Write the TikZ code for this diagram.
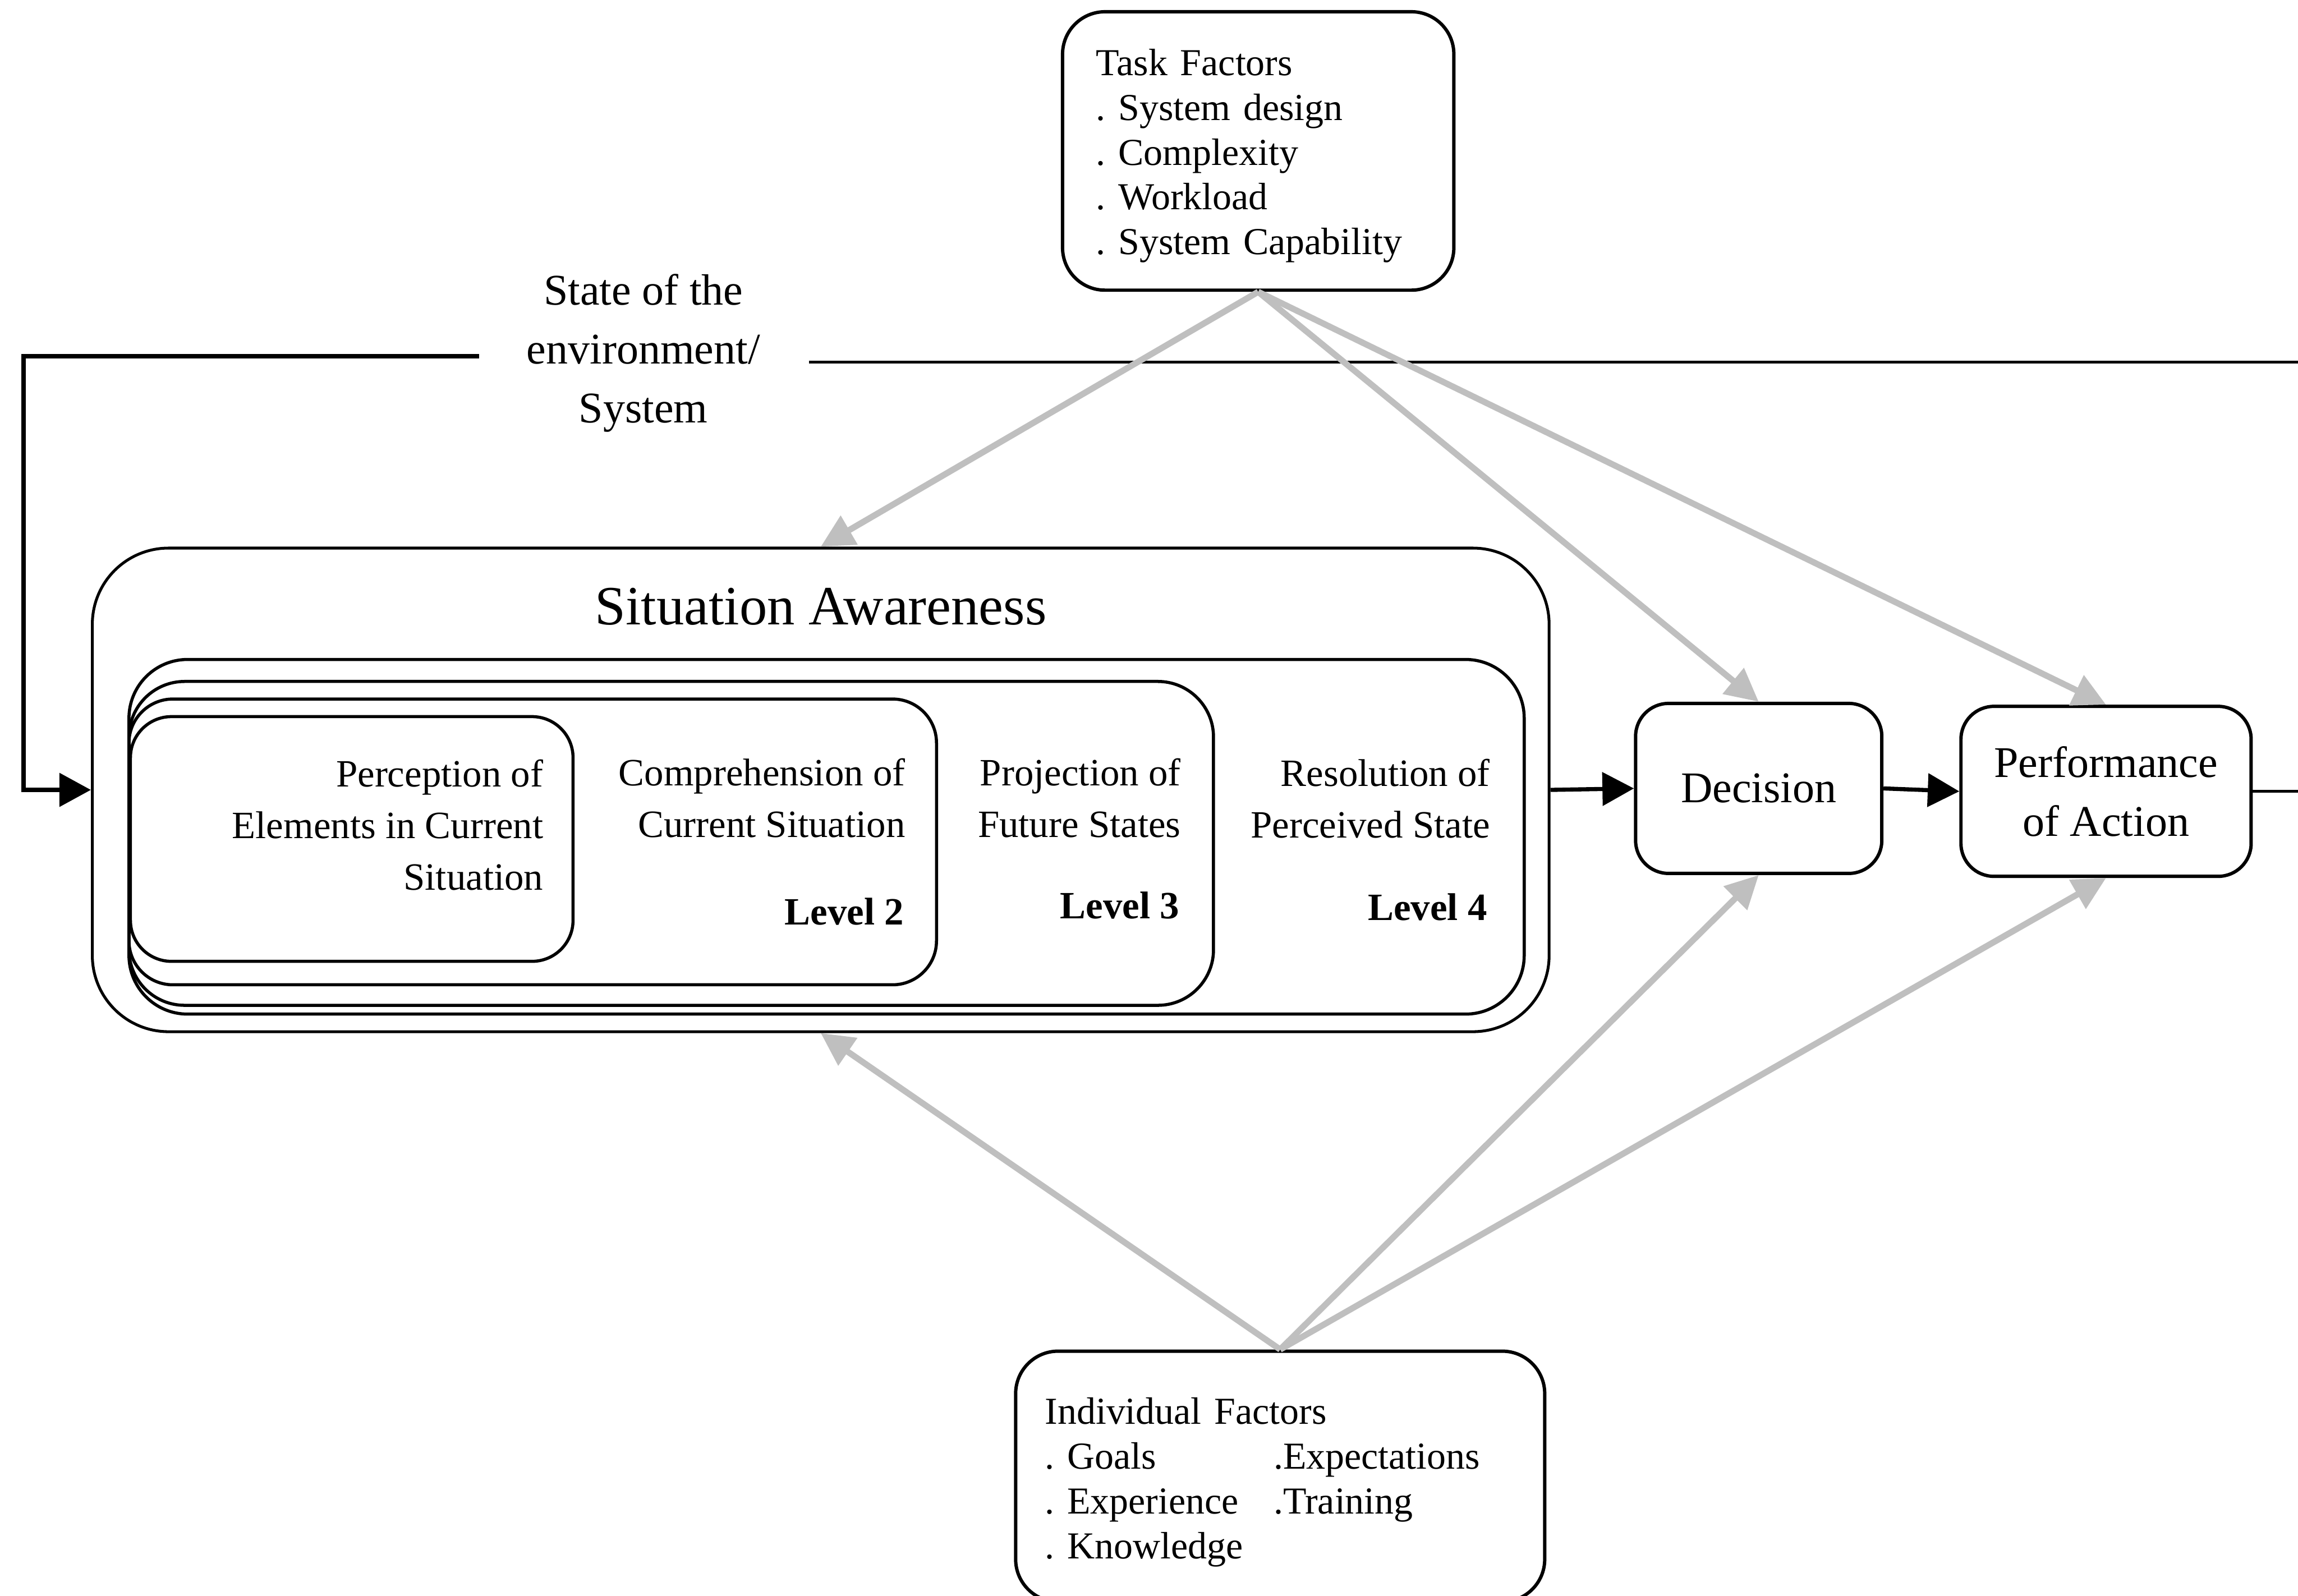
\documentclass[tikz,border=0pt]{standalone}
\usepackage{fontspec}
\setmainfont{Liberation Serif}
\usepackage{tikz}
\usetikzlibrary{arrows.meta,positioning,calc}
\frenchspacing
\definecolor{ink}{HTML}{000000}
\definecolor{factor}{HTML}{BFBFBF}
\tikzset{
  box/.style={draw=ink, line width=1.3pt, inner sep=0pt, align=center,
              font=\fontsize{17}{22.8}\selectfont},
  factorbox/.style={draw=ink, line width=1.3pt, rounded corners=0.58cm, inner sep=0pt,
                    align=left, font=\fontsize{14.8}{17.4}\selectfont},
  levelbox/.style={draw=ink, line width=1.2pt, inner sep=0pt},
  leveltext/.style={anchor=east, inner sep=0pt, align=right, font=\fontsize{15}{20}\selectfont},
  levelnum/.style={anchor=east, inner sep=0pt, font=\fontsize{15}{20}\selectfont\bfseries},
  flow/.style={-{Triangle[length=0.43cm,width=0.45cm]}, line width=1.6pt, draw=ink},
  influence/.style={-{Triangle[length=0.45cm,width=0.44cm]}, line width=2.4pt, draw=factor}
}

\begin{document}
\begin{tikzpicture}[x=1cm,y=1cm]
  \useasboundingbox (0,0) rectangle (31.36,-21.78);
  % situation awareness block with its nested levels
  \node[box,rounded corners=1.04cm,line width=1.1pt,minimum width=19.88cm,minimum height=6.60cm] (sa) at (11.20,-10.78) {};
  \node[font=\fontsize{21.5}{26}\selectfont] (satitle) at (11.20,-8.28) {Situation Awareness};
  \foreach \n/\cx/\cy/\w/\h/\r in {four/11.28/-11.42/19.04/4.84/0.80,three/9.16/-11.51/14.80/4.42/0.76,
                                   two/7.27/-11.49/11.02/3.90/0.60,one/4.80/-11.45/6.04/3.34/0.56} {
    \node[levelbox,rounded corners=\r cm,minimum width=\w cm,minimum height=\h cm] (lv\n) at (\cx,\cy) {};
  }
  \node[leveltext] (perc) at (7.42,-11.26) {Perception of\\Elements in Current\\Situation};
  \node[leveltext] (comp) at (12.36,-10.89) {Comprehension of\\Current Situation};
  \node[levelnum] (numtwo) at (12.34,-12.44) {Level 2};
  \node[leveltext] (proj) at (16.12,-10.89) {Projection of\\Future States};
  \node[levelnum] (numthree) at (16.10,-12.36) {Level 3};
  \node[leveltext] (reso) at (20.34,-10.90) {Resolution of\\Perceived State};
  \node[levelnum] (numfour) at (20.30,-12.38) {Level 4};

  \node[box,rounded corners=0.45cm,minimum width=3.36cm,minimum height=2.32cm] (dec) at (24.00,-10.76) {Decision};
  \node[box,rounded corners=0.45cm,minimum width=3.96cm,minimum height=2.32cm] (perf) at (28.74,-10.80) {Performance\\of Action};

  % factor boxes
  \node[factorbox,minimum width=5.34cm,minimum height=3.80cm,text width=4.42cm] (task) at (17.17,-2.06)
    {\rule{0pt}{0.95em}Task Factors\\. System design\\. Complexity\\. Workload\\. System Capability};
  \node[factorbox,minimum width=7.22cm,minimum height=3.42cm,text width=6.42cm] (ind) at (17.47,-20.15)
    {\rule{0pt}{1em}Individual Factors\\\makebox[3.12cm][l]{. Goals}.Expectations\\\makebox[3.12cm][l]{. Experience}.Training\\. Knowledge};

  % environment feedback loop
  \node[font=\fontsize{17}{22.8}\selectfont,align=center] (env) at (8.78,-4.82) {State of the\\environment/\\System};
  \coordinate (envL) at (6.54,-4.86);
  \coordinate (envR) at (11.04,-4.94);
  \draw[ink,line width=1.2pt] (perf.east) -- ++(1.2,0) |- (envR);
  \draw[flow,line width=1.8pt] (envL) -| ([xshift=-0.92cm]sa.west) -- (sa.west);

  \draw[flow] (sa.east) -- (dec.west);
  \draw[flow] (dec.east) -- (perf.west);

  \foreach \t in {sa,dec,perf} {
    \draw[influence] (task.south) -- (\t.north);
    \draw[influence] (ind.north) -- (\t.south);
  }
\end{tikzpicture}
\end{document}
